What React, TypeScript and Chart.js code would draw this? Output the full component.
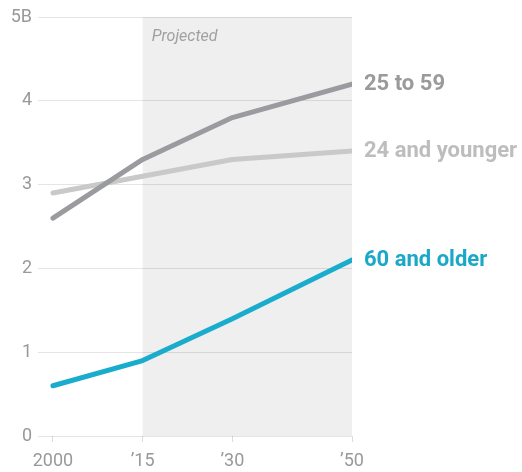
import React, { useEffect, useRef } from "react";
import { Chart, registerables } from "chart.js";

Chart.register(...registerables);

const years = [2000, 2015, 2030, 2050];
const xTickLabels = ["2000", "\u201915", "\u201930", "\u201950"];
const yTickValues = [0, 1, 2, 3, 4, 5];
const ages25to59 = [2.6, 3.3, 3.8, 4.2];
const ages24younger = [2.9, 3.1, 3.3, 3.4];
const ages60older = [0.6, 0.9, 1.4, 2.1];
const seriesNames = ["25 to 59", "24 and younger", "60 and older"];
const seriesColors = ["#9a9b9f", "#c9c9c9", "#1aaccc"];
const labelColors = ["#9a9a9a", "#bdbdbd", "#1aa8c8"];
const projectedStart = 2015;
const projectedEnd = 2050;

export default function App() {
  const ref = useRef<HTMLCanvasElement | null>(null);
  useEffect(() => {
    if (!ref.current) return;
    const shade = {
      id: "shade",
      beforeDraw(chart: any) {
        const { ctx, chartArea, scales } = chart;
        const x0 = scales.x.getPixelForValue(projectedStart);
        const x1 = scales.x.getPixelForValue(projectedEnd);
        ctx.save();
        ctx.fillStyle = "#efefef";
        ctx.fillRect(x0, chartArea.top, x1 - x0, chartArea.bottom - chartArea.top);
        ctx.fillStyle = "#a0a0a0";
        ctx.font = "italic 16px Roboto, 'Noto Sans', sans-serif";
        ctx.textBaseline = "middle";
        ctx.textAlign = "left";
        ctx.fillText("Projected", x0 + 9, chartArea.top + 20);
        ctx.restore();
      },
      afterDatasetsDraw(chart: any) {
        const { ctx } = chart;
        ctx.save();
        ctx.font = "bold 22px Roboto, 'Noto Sans', sans-serif";
        ctx.textBaseline = "middle";
        ctx.textAlign = "left";
        chart.data.datasets.forEach((ds: any, i: number) => {
          const meta = chart.getDatasetMeta(i);
          const last = meta.data[meta.data.length - 1];
          ctx.fillStyle = labelColors[i];
          ctx.fillText(ds.label, last.x + 12, last.y);
        });
        ctx.restore();
      },
    };
    const mk = (vals: number[]) => years.map((y, i) => ({ x: y, y: vals[i] }));
    const chart = new Chart(ref.current, {
      type: "line",
      data: {
        datasets: [
          { label: seriesNames[0], data: mk(ages25to59), borderColor: seriesColors[0] },
          { label: seriesNames[1], data: mk(ages24younger), borderColor: seriesColors[1] },
          { label: seriesNames[2], data: mk(ages60older), borderColor: seriesColors[2] },
        ].map((d) => ({
          ...d,
          borderWidth: 5,
          pointRadius: 0,
          tension: 0,
          borderCapStyle: "round" as const,
          borderJoinStyle: "round" as const,
          fill: false,
        })),
      },
      options: {
        animation: false,
        responsive: true,
        maintainAspectRatio: false,
        layout: { padding: { top: 17, right: 170, left: 0, bottom: 0 } },
        plugins: { legend: { display: false }, tooltip: { enabled: false } },
        scales: {
          x: {
            type: "linear",
            min: 1997.5,
            max: 2050,
            afterBuildTicks: (axis: any) => {
              axis.ticks = years.map((v) => ({ value: v }));
            },
            afterFit: (axis: any) => {
              axis.height = 36;
            },
            ticks: {
              autoSkip: false,
              maxRotation: 0,
              padding: 9,
              color: "#999",
              font: { family: "Roboto, 'Noto Sans', sans-serif", size: 18, weight: "400" },
              callback: (v: any) => {
                const i = years.indexOf(Number(v));
                return i >= 0 ? xTickLabels[i] : "";
              },
            },
            grid: { drawOnChartArea: false, drawTicks: true, tickLength: 6, color: "#dcdcdc" },
            border: { display: false },
          },
          y: {
            min: 0,
            max: 5,
            afterBuildTicks: (axis: any) => {
              axis.ticks = yTickValues.map((v) => ({ value: v }));
            },
            afterFit: (axis: any) => {
              axis.width = 38;
            },
            ticks: {
              padding: 6,
              color: "#999",
              font: { family: "Roboto, 'Noto Sans', sans-serif", size: 18, weight: "400" },
              callback: (v: any) => (Number(v) === 5 ? "5B" : String(v)),
            },
            grid: { drawTicks: false, color: "rgba(0,0,0,0.1)" },
            border: { display: false },
          },
        },
      },
      plugins: [shade],
    } as any);
    return () => chart.destroy();
  }, []);
  return (
    <div style={{ position: "absolute", left: 0, top: 0, width: 522, height: 472, background: "#fff" }}>
      <canvas ref={ref} />
    </div>
  );
}
